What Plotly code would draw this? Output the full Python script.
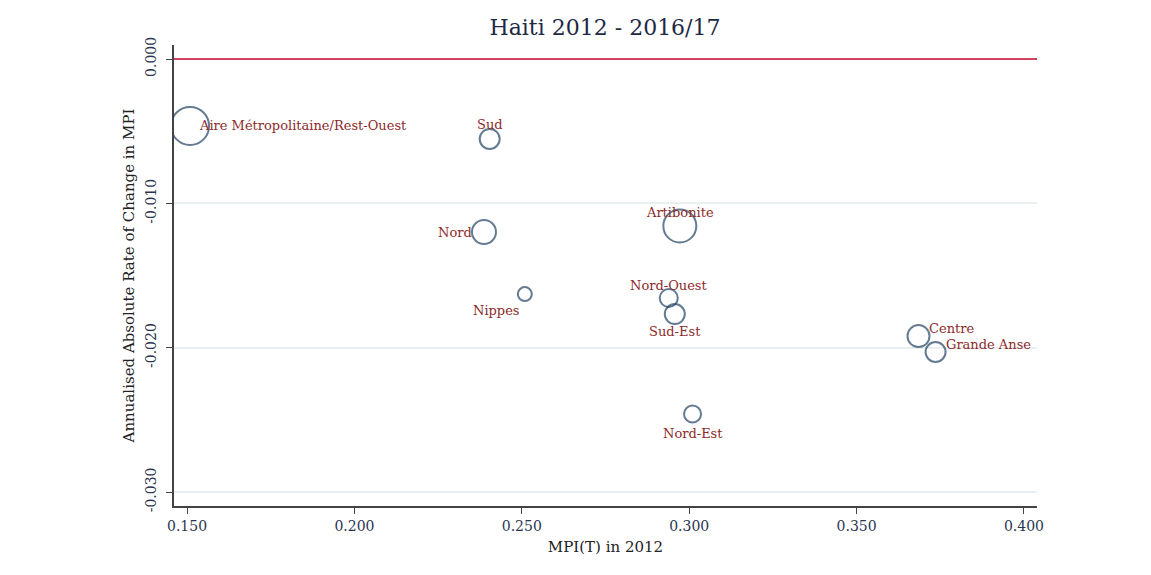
import plotly.graph_objects as go

regions = ["Aire Métropolitaine/Rest-Ouest", "Sud", "Nord", "Artibonite", "Nippes",
           "Nord-Ouest", "Sud-Est", "Centre", "Grande Anse", "Nord-Est"]
mpi_2012 = [0.1509, 0.2404, 0.2387, 0.2972, 0.2509, 0.2939, 0.2957, 0.3685, 0.3736, 0.3010]
change = [-0.00464, -0.00554, -0.01199, -0.01157, -0.01629, -0.01656, -0.01767, -0.0192, -0.0203, -0.0246]
weight = [38, 20, 24, 33, 14, 18, 20, 22, 20, 17]

x_ticks = [0.15, 0.20, 0.25, 0.30, 0.35, 0.40]
y_ticks = [0.0, -0.01, -0.02, -0.03]

# label placement (styling): xanchor, xshift, yshift
label_pos = {
    "Aire Métropolitaine/Rest-Ouest": ("left", 7, 0),
    "Sud": ("center", 0, 14),
    "Nord": ("right", -10, 0),
    "Artibonite": ("center", 0, 13),
    "Nippes": ("center", -28, -16),
    "Nord-Ouest": ("center", 0, 13),
    "Sud-Est": ("center", 0, -17),
    "Centre": ("left", 8, 8),
    "Grande Anse": ("left", 8, 8),
    "Nord-Est": ("center", 0, -19),
}

serif = "DejaVu Serif"
fig = go.Figure()
fig.add_trace(go.Scatter(
    x=mpi_2012, y=change, mode="markers",
    marker=dict(size=weight, color="rgba(0,0,0,0)",
                line=dict(color="#234464", width=2)),
    hoverinfo="text", text=regions, showlegend=False,
))

ann = []
for name, xv, yv in zip(regions, mpi_2012, change):
    xa, xs, ys = label_pos[name]
    ann.append(dict(x=xv, y=yv, xref="x", yref="y", text=name, showarrow=False,
                    xanchor=xa, yanchor="middle", xshift=xs, yshift=ys,
                    font=dict(family=serif, size=13, color="#8c2a2a")))
fig.update_layout(annotations=ann)

fig.add_shape(type="line", xref="paper", yref="y", x0=0, x1=1, y0=0, y1=0,
              line=dict(color="#d2435c", width=2))

fig.update_layout(
    width=1151, height=575,
    paper_bgcolor="white", plot_bgcolor="white",
    margin=dict(l=166, r=122, t=37, b=77),
    title=dict(text="Haiti 2012 - 2016/17", x=0.5187, xanchor="center", y=0.967, yanchor="middle",
               font=dict(family=serif, size=22, color="#1e2a44")),
    xaxis=dict(range=[0.1461, 0.4039], tickvals=x_ticks, ticktext=[f"{v:.3f}" for v in x_ticks],
               showgrid=False, zeroline=False, showline=True, linecolor="#444", linewidth=1.5,
               ticks="outside", ticklen=6, tickcolor="#444",
               tickfont=dict(family=serif, size=14, color="#2a3550"),
               title=dict(text="MPI(T) in 2012", standoff=9,
                          font=dict(family=serif, size=15, color="#222"))),
    yaxis=dict(range=[-0.03097, 0.00097], tickvals=y_ticks, ticktext=[f"{v:.3f}" for v in y_ticks],
               tickangle=-90, showgrid=True, gridcolor="#e8f0f2", gridwidth=1.5,
               zeroline=False, showline=True, linecolor="#444", linewidth=1.5,
               ticks="outside", ticklen=6, tickcolor="#444", ticklabelstandoff=5,
               tickfont=dict(family=serif, size=14, color="#2a3550"),
               title=dict(text="Annualised Absolute Rate of Change in MPI", standoff=4,
                          font=dict(family=serif, size=15, color="#222"))),
)

fig.write_html("out.html")
